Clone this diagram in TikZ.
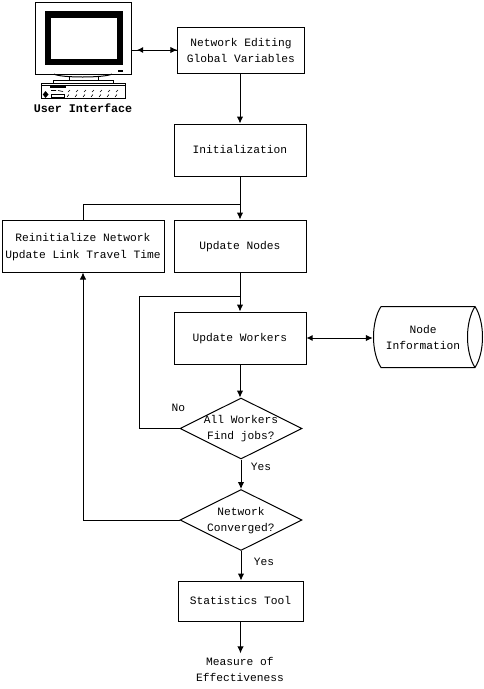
\documentclass[tikz,border=0pt]{standalone}
\usepackage{fontspec}
\setmainfont{Liberation Mono}
\usetikzlibrary{arrows.meta,shapes.geometric}
\tikzset{
  base/.style={font=\fontsize{11.25}{16}\selectfont,align=center,inner sep=0pt,execute at begin node=\strut},
  box/.style={base,draw,line width=1pt},
  dec/.style={draw,diamond,aspect=2,inner sep=0pt,line width=1pt},
  lab/.style={base},
  tip/.style={line width=1pt,-{Latex[length=7pt,width=6.5pt]}},
  plain/.style={line width=1pt},
  both/.style={line width=1pt,{Latex[length=6pt,width=6pt]}-{Latex[length=7pt,width=6.5pt]}}
}
\begin{document}
\begin{tikzpicture}[x=1pt,y=-1pt]
\useasboundingbox (0,0) rectangle (483,689);
% monitor
\node[draw,line width=1pt,minimum width=96pt,minimum height=72pt,inner sep=0pt] (monitor) at (83.5,38) {};
\fill (44.5,11) rectangle (123,65);
\fill[white] (51,17.5) rectangle (116.7,58.7);
\fill (118,70) rectangle (123,71.5);
\draw[plain] (54,74) .. controls (60,78) and (105,78) .. (112,74);
\draw[plain] (69,77) -- (69,80) (98,77) -- (98,80);
\draw[plain] (53.5,83) -- (53.5,80) -- (113.5,80) -- (113.5,83);
\draw[plain] (41.5,83) rectangle (125.5,98.5);
\draw[line width=0.6pt] (41.5,85.5) -- (125.5,85.5);
\fill (50,86) rectangle (66,88);
\fill (45.5,91) -- (42.8,94.5) -- (45.5,98) -- (48.5,94.5) -- cycle;
\draw[plain] (51.5,94) rectangle (64,97);
\foreach \px in {68,76,...,116} {
  \draw[line width=0.6pt] (\px,92) -- (\px+2,90);
  \draw[line width=0.6pt] (\px-1,97) -- (\px+1,94.5);
}
\draw[line width=0.6pt] (51,90.5) -- (56,90.5) (58,90.5) -- (63,91.5);
\node[lab,font=\fontsize{11.7}{16}\selectfont\bfseries] (ui) at (83,109) {User Interface};
% boxes
\node[box,minimum width=126.5pt,minimum height=46pt,label={[base,yshift=-2.5pt]center:{Network Editing\\Global Variables}}] (edit) at (241,50) {};
\node[box,minimum width=132pt,minimum height=52pt] (init) at (240,150) {Initialization};
\node[box,minimum width=132pt,minimum height=52pt] (nodes) at (240,246) {Update Nodes};
\node[box,minimum width=162pt,minimum height=52pt,label={[base,yshift=-2.5pt]center:{Reinitialize Network\\[1.5pt]Update Link Travel Time}}] (reinit) at (83,246) {};
\node[box,minimum width=132pt,minimum height=52pt] (workers) at (240,338) {Update Workers};
\node[box,minimum width=125pt,minimum height=40pt] (stats) at (240.5,601) {Statistics Tool};
\node[dec,minimum width=122pt,minimum height=61pt,label={[base,yshift=-1pt]center:{All Workers\\Find jobs?}}] (find) at (241,428.5) {};
\node[dec,minimum width=122pt,minimum height=61pt,label={[base,yshift=-1.5pt]center:{Network\\Converged?}}] (conv) at (241,520) {};
\node[lab] (moe) at (240,672) {Measure of\\Effectiveness};
% cylinder
\node[base,minimum width=100pt,minimum height=61pt] (info) at (423,340) {Node\\Information};
\draw[plain] (381,306.5) -- (475,306.5) .. controls (485,322) and (485,352) .. (475,367.5) -- (381,367.5) .. controls (371,352) and (371,322) .. (381,306.5);
\draw[plain] (475,306.5) .. controls (465,322) and (465,352) .. (475,367.5);
% labels
\node[lab] (no) at (178.5,408) {No};
\node[lab] (yesa) at (261,467) {Yes};
\node[lab] (yesb) at (264,562) {Yes};
% junctions
\coordinate (ja) at (init.south |- 0,204.5);
\coordinate (jb) at (nodes.south |- 0,296);
% connectors
\draw[plain] (monitor.east |- edit.west) -- (edit.west);
\draw[both,shorten <=5pt] (monitor.east |- edit.west) -- (edit.west);
\draw[tip] (edit.south -| init.north) -- (init.north);
\draw[tip] (init) -- (nodes);
\draw[plain] (reinit.north) |- (ja);
\draw[tip] (nodes) -- (workers);
\draw[plain] (find.west) -| (139,296) -- (jb);
\draw[both] (workers.east) -- (workers.east -| info.west);
\draw[tip] (workers.south) -- (find.north -| workers.south);
\draw[tip] (find.south) -- (conv.north);
\draw[tip] (conv.west) -| (reinit.south);
\draw[tip] (conv.south) -- (stats.north -| conv.south);
\draw[tip,shorten >=4pt] (stats.south) -- (stats.south |- moe.north);
\end{tikzpicture}
\end{document}
